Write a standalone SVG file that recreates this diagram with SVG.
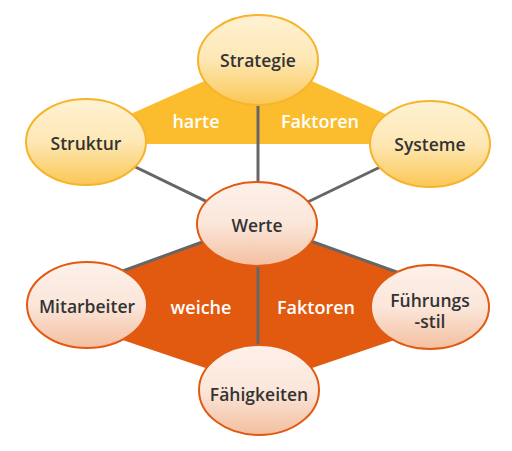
<svg xmlns="http://www.w3.org/2000/svg" width="512" height="451" viewBox="0 0 512 451">
<defs>
<linearGradient id="gy" x1="0" y1="0" x2="0" y2="1">
<stop offset="0" stop-color="#fff2d4"/>
<stop offset="0.5" stop-color="#fde7b4"/>
<stop offset="1" stop-color="#fbc754"/>
</linearGradient>
<linearGradient id="go" x1="0" y1="0" x2="0" y2="1">
<stop offset="0" stop-color="#fdf1ea"/>
<stop offset="0.5" stop-color="#fbe6da"/>
<stop offset="1" stop-color="#f3bf9f"/>
</linearGradient>
<style>
.y{fill:url(#gy);stroke:#f6b42a;stroke-width:2}
.o{fill:url(#go);stroke:#e25a12;stroke-width:2}
.t{font-family:"Open Sans","Liberation Sans",sans-serif;font-weight:600;font-size:17.5px;fill:#333;text-anchor:middle}
.w{font-family:"Open Sans","Liberation Sans",sans-serif;font-weight:600;font-size:18px;fill:#fff;text-anchor:middle}
.c{stroke:#666;stroke-width:3;fill:none}
</style>
</defs>
<g id="areas">
<polygon points="258,57 86,134 86,144 430,144 430,134" fill="#fbbd2e"/>
<polygon points="257,222 87,284 87,328 259,386 430,328 430,284" fill="#e15a10"/>
</g>
<g id="connectors">
<line class="c" x1="258" y1="60" x2="258" y2="224"/>
<line class="c" x1="86" y1="143" x2="257" y2="226"/>
<line class="c" x1="430" y1="143" x2="258" y2="226"/>
<line class="c" x1="257" y1="222" x2="87" y2="284"/>
<line class="c" x1="258" y1="222" x2="430" y2="284"/>
<line class="c" x1="258" y1="224" x2="258" y2="390"/>
</g>
<g id="labels">
<text class="w" x="196" y="128">harte</text>
<text class="w" x="320" y="128">Faktoren</text>
<text class="w" x="201" y="314">weiche</text>
<text class="w" x="316" y="314">Faktoren</text>
</g>
<g id="strategie"><ellipse class="y" cx="258" cy="60" rx="60" ry="45"/><text class="t" x="258" y="67">Strategie</text></g>
<g id="struktur"><ellipse class="y" cx="86" cy="142" rx="60" ry="43"/><text class="t" x="86" y="150">Struktur</text></g>
<g id="systeme"><ellipse class="y" cx="430" cy="144" rx="60" ry="43"/><text class="t" x="430" y="151">Systeme</text></g>
<g id="werte"><ellipse class="o" cx="257" cy="224" rx="60" ry="42"/><text class="t" x="257" y="232">Werte</text></g>
<g id="mitarbeiter"><ellipse class="o" cx="87" cy="305" rx="60" ry="43"/><text class="t" x="87" y="313">Mitarbeiter</text></g>
<g id="fuehrungsstil"><ellipse class="o" cx="430" cy="307" rx="59" ry="42"/><text class="t" x="430" y="307">Führungs</text><text class="t" x="430" y="328">-stil</text></g>
<g id="faehigkeiten"><ellipse class="o" cx="259" cy="390" rx="60" ry="45"/><text class="t" x="259" y="401">Fähigkeiten</text></g>
</svg>
